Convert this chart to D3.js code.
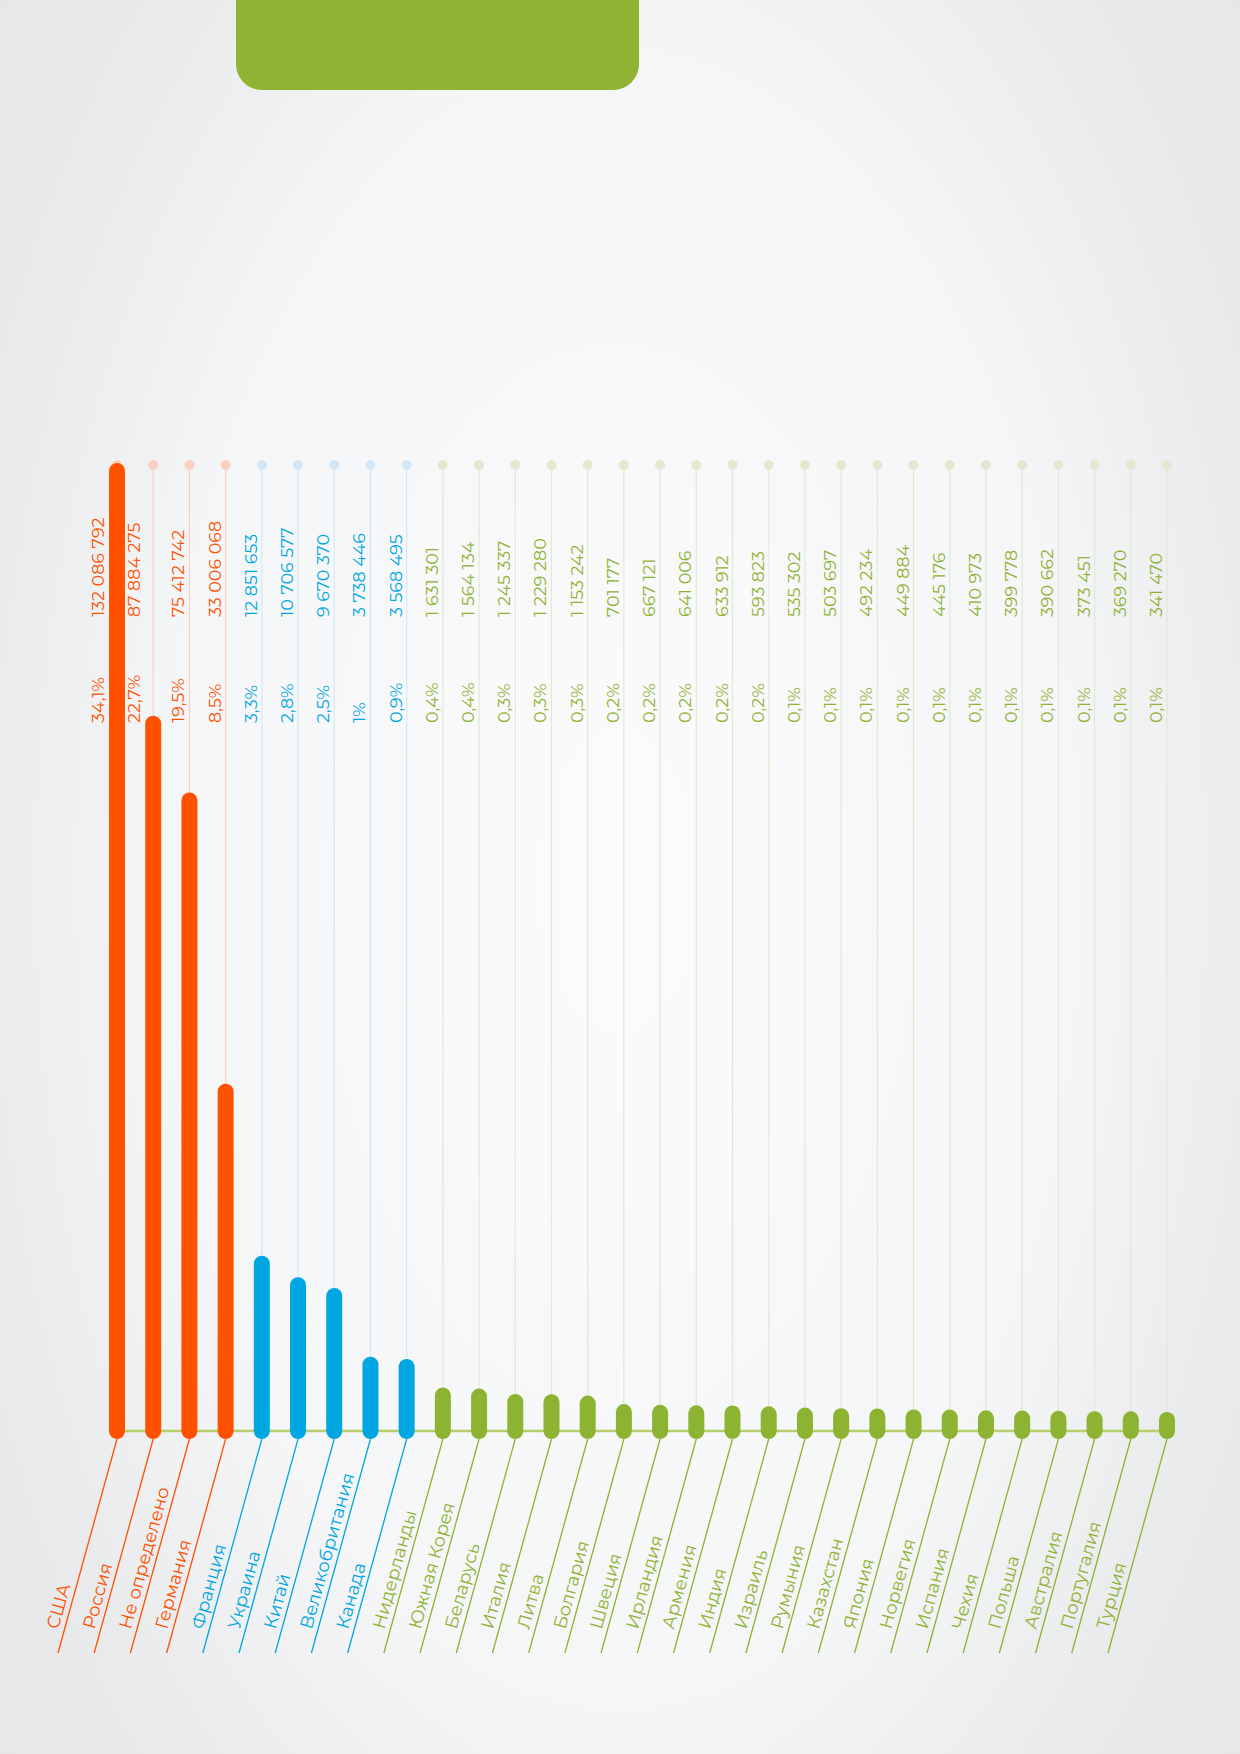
<!DOCTYPE html>
<html>
<head>
<meta charset="utf-8">
<script src="https://cdn.jsdelivr.net/npm/d3@7"></script>
<style>
  body { margin: 0; }
  svg { display: block; }
  text { font-family: Montserrat, Lato, "Open Sans", sans-serif; font-weight: 400; }
</style>
</head>
<body>
<svg id="svg" width="1240" height="1754"></svg>
<script>
// Data
var countries = ['США', 'Россия', 'Не определено', 'Германия', 'Франция', 'Украина', 'Китай',
  'Великобритания', 'Канада', 'Нидерланды', 'Южная Корея', 'Беларусь', 'Италия', 'Литва',
  'Болгария', 'Швеция', 'Ирландия', 'Армения', 'Индия', 'Израиль', 'Румыния', 'Казахстан',
  'Япония', 'Норвегия', 'Испания', 'Чехия', 'Польша', 'Австралия', 'Португалия', 'Турция'];

var visits = [132086792, 87884275, 75412742, 33006068, 12851653, 10706577, 9670370,
  3738446, 3568495, 1631301, 1564134, 1245337, 1229280, 1153242,
  701177, 667121, 641006, 633912, 593823, 535302, 503697, 492234,
  449884, 445176, 410973, 399778, 390662, 373451, 369270, 341470];

var shares = [34.1, 22.7, 19.5, 8.5, 3.3, 2.8, 2.5, 1, 0.9, 0.4, 0.4, 0.3, 0.3, 0.3,
  0.2, 0.2, 0.2, 0.2, 0.2, 0.1, 0.1, 0.1, 0.1, 0.1, 0.1, 0.1, 0.1, 0.1, 0.1, 0.1];

// 0 - оранжевая группа, 1 - синяя, 2 - зеленая
var groups = [0, 0, 0, 0, 1, 1, 1, 1, 1, 2, 2, 2, 2, 2, 2, 2, 2, 2, 2, 2, 2, 2, 2, 2, 2, 2, 2, 2, 2, 2];

var barColors = ['#ff5100', '#00a6e2', '#8db333'],
    lightColors = ['#fbd0c0', '#d3e7f7', '#e3e8d1'];

var width = 1240, height = 1754,
    dotY = 465,        // ряд точек сверху
    baseY = 1431,      // базовая линия
    barBottom = 1439,  // низ скругленного столбика
    barW = 16,
    valueY = 617,      // начало подписи значения
    shareY = 723,      // начало подписи процента
    tailY = 1653,      // конец наклонной линии
    tailDx = -59,
    labelY = 1630;

var ru = d3.formatLocale({ decimal: ',', thousands: ' ', grouping: [3], currency: ['', ''] }),
    fmtValue = ru.format(','),
    fmtShare = ru.format('.3~g');

var data = countries.map(function (name, i) {
  return { name: name, value: visits[i], share: shares[i], group: groups[i] };
});

var svg = d3.select('#svg');

// Background
var defs = svg.append('defs');
var grad = defs.append('radialGradient')
  .attr('id', 'bg')
  .attr('gradientUnits', 'userSpaceOnUse')
  .attr('cx', 620).attr('cy', 880).attr('r', 1000)
  .attr('gradientTransform', 'translate(620,880) scale(1,1.8) translate(-620,-880)');
grad.append('stop').attr('offset', '0%').attr('stop-color', '#fbfbfc');
grad.append('stop').attr('offset', '45%').attr('stop-color', '#f5f6f7');
grad.append('stop').attr('offset', '66%').attr('stop-color', '#e9eaec');
grad.append('stop').attr('offset', '100%').attr('stop-color', '#e1e2e4');

svg.append('rect').attr('width', width).attr('height', height).attr('fill', 'url(#bg)');

// плашка заголовка
svg.append('rect')
  .attr('x', 236).attr('y', -40)
  .attr('width', 403).attr('height', 130)
  .attr('rx', 26)
  .attr('fill', '#8fb333');

// Scales
var x = d3.scalePoint()
  .domain(countries)
  .range([117, 1167]);

var y = d3.scalePow()
  .exponent(0.75)
  .domain([0, d3.max(visits)])
  .range([barBottom - barW, 463]);

// направляющие
svg.append('g').selectAll('line').data(data).enter().append('line')
  .attr('x1', function (d) { return x(d.name); })
  .attr('x2', function (d) { return x(d.name); })
  .attr('y1', dotY)
  .attr('y2', baseY)
  .attr('stroke', function (d) { return lightColors[d.group]; })
  .attr('stroke-width', 1.2);

svg.append('g').selectAll('circle').data(data).enter().append('circle')
  .attr('cx', function (d) { return x(d.name); })
  .attr('cy', dotY)
  .attr('r', 5)
  .attr('fill', function (d) { return lightColors[d.group]; });

// базовая линия
svg.append('line')
  .attr('x1', x(countries[0])).attr('x2', x(countries[countries.length - 1]))
  .attr('y1', baseY).attr('y2', baseY)
  .attr('stroke', '#b5cf6c')
  .attr('stroke-width', 2.5);

// Bars
svg.append('g').selectAll('rect').data(data).enter().append('rect')
  .attr('x', function (d) { return x(d.name) - barW / 2; })
  .attr('y', function (d) { return y(d.value); })
  .attr('width', barW)
  .attr('height', function (d) { return barBottom - y(d.value); })
  .attr('rx', barW / 2)
  .attr('fill', function (d) { return barColors[d.group]; });

// наклонные выноски
svg.append('g').selectAll('line').data(data).enter().append('line')
  .attr('x1', function (d) { return x(d.name); })
  .attr('y1', barBottom)
  .attr('x2', function (d) { return x(d.name) + tailDx; })
  .attr('y2', tailY)
  .attr('stroke', function (d) { return barColors[d.group]; })
  .attr('stroke-width', 1.3);

// Texts
function textShift (d) {
  // если столбик заходит на подписи - отодвигаем их левее
  return y(d.value) < shareY ? barW / 2 + 5 : 5;
}

svg.append('g').selectAll('text').data(data).enter().append('text')
  .attr('transform', function (d) {
    return 'translate(' + (x(d.name) - textShift(d)) + ',' + valueY + ') rotate(-90)';
  })
  .attr('font-size', 17.5)
  .attr('fill', function (d) { return barColors[d.group]; })
  .text(function (d) { return fmtValue(d.value); });

svg.append('g').selectAll('text').data(data).enter().append('text')
  .attr('transform', function (d) {
    return 'translate(' + (x(d.name) - textShift(d)) + ',' + shareY + ') rotate(-90)';
  })
  .attr('font-size', 17.5)
  .attr('fill', function (d) { return barColors[d.group]; })
  .text(function (d) { return fmtShare(d.share) + '%'; });

var angle = -Math.atan2(tailY - barBottom, -tailDx) * 180 / Math.PI;

svg.append('g').selectAll('text').data(data).enter().append('text')
  .attr('transform', function (d) {
    var lx = x(d.name) + tailDx * (labelY - barBottom) / (tailY - barBottom) - 6;
    return 'translate(' + lx + ',' + labelY + ') rotate(' + angle + ')';
  })
  .attr('font-size', 18)
  .attr('fill', function (d) { return barColors[d.group]; })
  .text(function (d) { return d.name; });
</script>
</body>
</html>
